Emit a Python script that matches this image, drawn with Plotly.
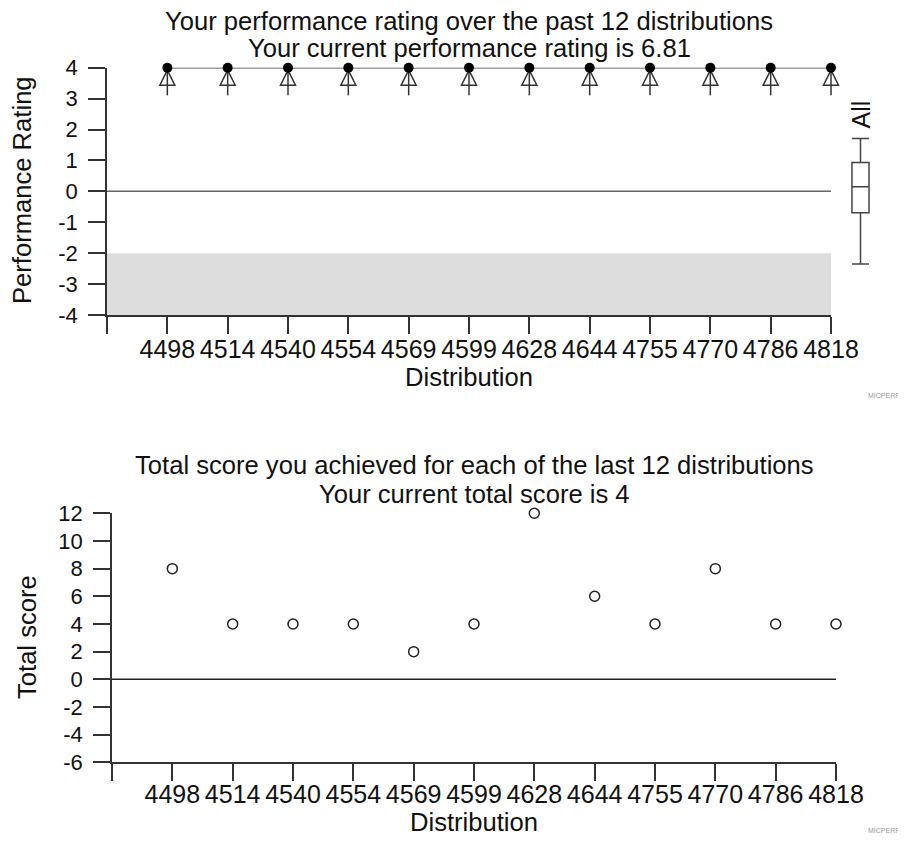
import plotly.graph_objects as go

# ---- data ----
distributions = ["4498", "4514", "4540", "4554", "4569", "4599",
                 "4628", "4644", "4755", "4770", "4786", "4818"]
ratings_plotted = [4, 4, 4, 4, 4, 4, 4, 4, 4, 4, 4, 4]   # shown clipped at top of scale
rating_clip = 4
total_scores = [8, 4, 4, 4, 2, 4, 12, 6, 4, 8, 4, 4]
box_all = dict(lowerfence=-2.35, q1=-0.69, median=0.15, q3=0.93, upperfence=1.71)
band_low, band_high = -4, -2
top_yticks = [-4, -3, -2, -1, 0, 1, 2, 3, 4]
bottom_yticks = [-6, -4, -2, 0, 2, 4, 6, 8, 10, 12]
top_title = ["Your performance rating over the past 12 distributions",
             "Your current performance rating is 6.81"]
bottom_title = ["Total score you achieved for each of the last 12 distributions",
                "Your current total score is 4"]

# page body has an 8px margin: make the figure fit inside the window
OFF = 8
W, H = 906 - 2 * OFF, 843 - 2 * OFF
FONT = "Liberation Sans, Arial, sans-serif"
AX = "#333333"
TXT = "#111111"

xpos = list(range(1, len(distributions) + 1))
tickvals = [0] + xpos
ticktext = [""] + distributions

def px_x(p):
    return (p - OFF) / W

def px_y(p):
    return 1 - (p - OFF) / H

fig = go.Figure()

# --- top chart: arrows (off-scale indicators) ---
clipped_x = [x for x, r in zip(xpos, ratings_plotted) if r >= rating_clip]
fig.add_trace(go.Scatter(
    x=clipped_x, y=[rating_clip - 0.51] * len(clipped_x), mode="markers",
    marker=dict(symbol="line-ns-open", size=17, color=AX, line=dict(color=AX, width=1.5)),
    xaxis="x", yaxis="y", hoverinfo="skip", cliponaxis=False, showlegend=False))
fig.add_trace(go.Scatter(
    x=clipped_x, y=[rating_clip - 0.08] * len(clipped_x), mode="markers",
    marker=dict(symbol="arrow-up-open", size=15, color=AX, line=dict(color=AX, width=1.5)),
    xaxis="x", yaxis="y", hoverinfo="skip", cliponaxis=False, showlegend=False))
fig.add_trace(go.Scatter(
    x=xpos, y=ratings_plotted, mode="lines+markers",
    line=dict(color="#444444", width=1.5),
    marker=dict(symbol="circle", size=10, color="black"),
    xaxis="x", yaxis="y", cliponaxis=False, showlegend=False))

# --- top chart: "All" box ---
fig.add_trace(go.Box(
    x=[0], q1=[box_all["q1"]], median=[box_all["median"]], q3=[box_all["q3"]],
    lowerfence=[box_all["lowerfence"]], upperfence=[box_all["upperfence"]],
    width=0.55, whiskerwidth=1, fillcolor="white",
    line=dict(color="#444444", width=1.5),
    xaxis="x3", yaxis="y", showlegend=False, boxpoints=False))

# --- bottom chart ---
fig.add_trace(go.Scatter(
    x=xpos, y=total_scores, mode="markers",
    marker=dict(symbol="circle-open", size=10, color="#222222", line=dict(width=1.5)),
    xaxis="x2", yaxis="y2", cliponaxis=False, showlegend=False))

# shaded band + zero lines
fig.add_shape(type="rect", xref="x", yref="y", x0=0, x1=len(distributions),
              y0=band_low, y1=band_high, fillcolor="#dddddd", line=dict(width=0), layer="below")
fig.add_shape(type="line", xref="x", yref="y", x0=0, x1=len(distributions), y0=0, y1=0,
              line=dict(color="#666666", width=1.5), layer="below")
fig.add_shape(type="line", xref="x2", yref="y2", x0=0, x1=len(distributions), y0=0, y1=0,
              line=dict(color="#222222", width=1.5), layer="below")

common_x = dict(range=[0, len(distributions)], tickmode="array", tickvals=tickvals,
                ticktext=ticktext, ticks="outside", ticklen=17, tickwidth=1.5, tickcolor=AX,
                showline=True, linecolor=AX, linewidth=1.5, showgrid=False, zeroline=False,
                automargin=False,
                tickfont=dict(size=25, color=TXT, family=FONT), fixedrange=True)
common_y = dict(ticks="outside", ticklen=17, tickwidth=1.5, tickcolor=AX,
                showline=True, linecolor=AX, linewidth=1.5, showgrid=False, zeroline=False,
                automargin=False, tickmode="array",
                tickfont=dict(size=22, color=TXT, family=FONT), ticklabelstandoff=6,
                fixedrange=True)

fig.update_layout(
    template="none",
    width=W, height=H, margin=dict(l=0, r=0, t=0, b=0, pad=0, autoexpand=False),
    paper_bgcolor="white", plot_bgcolor="white",
    font=dict(family=FONT, color=TXT),
    xaxis=dict(domain=[px_x(107), px_x(831)], anchor="y", ticklabelstandoff=-6, **common_x),
    yaxis=dict(domain=[px_y(315), px_y(67.7)], anchor="x", range=[-4, 4],
               tickvals=top_yticks, ticktext=[str(v) for v in top_yticks], **common_y),
    xaxis2=dict(domain=[px_x(112), px_x(836)], anchor="y2", ticklabelstandoff=-8, **common_x),
    yaxis2=dict(domain=[px_y(762.3), px_y(513.3)], anchor="x2", range=[-6, 12],
                tickvals=bottom_yticks, ticktext=[str(v) for v in bottom_yticks], **common_y),
    xaxis3=dict(domain=[px_x(845), px_x(876)], anchor="y", range=[-0.5, 0.5],
                visible=False, fixedrange=True, automargin=False),
)

ann = []
def text(x, y, s, size, angle=0, color=TXT, xanchor="center"):
    ann.append(dict(x=px_x(x), y=px_y(y), xref="paper", yref="paper", text=s,
                    showarrow=False, textangle=angle, xanchor=xanchor, yanchor="middle",
                    font=dict(size=size, color=color, family=FONT)))

text(469, 21, top_title[0], 25.6)
text(469, 48, top_title[1], 25.6)
text(469, 377, "Distribution", 25.6)
text(22, 190, "Performance Rating", 25.6, angle=-90)
text(860.5, 115, "All", 25, angle=-90)
text(866, 395, "MICPERF", 7, color="#999999", xanchor="left")

text(474, 465, bottom_title[0], 25.6)
text(474, 494, bottom_title[1], 25.6)
text(474, 822, "Distribution", 25.6)
text(27, 637, "Total score", 25.6, angle=-90)
text(866, 830, "MICPERF", 7, color="#999999", xanchor="left")

fig.update_layout(annotations=ann)
fig.write_html("out.html")
